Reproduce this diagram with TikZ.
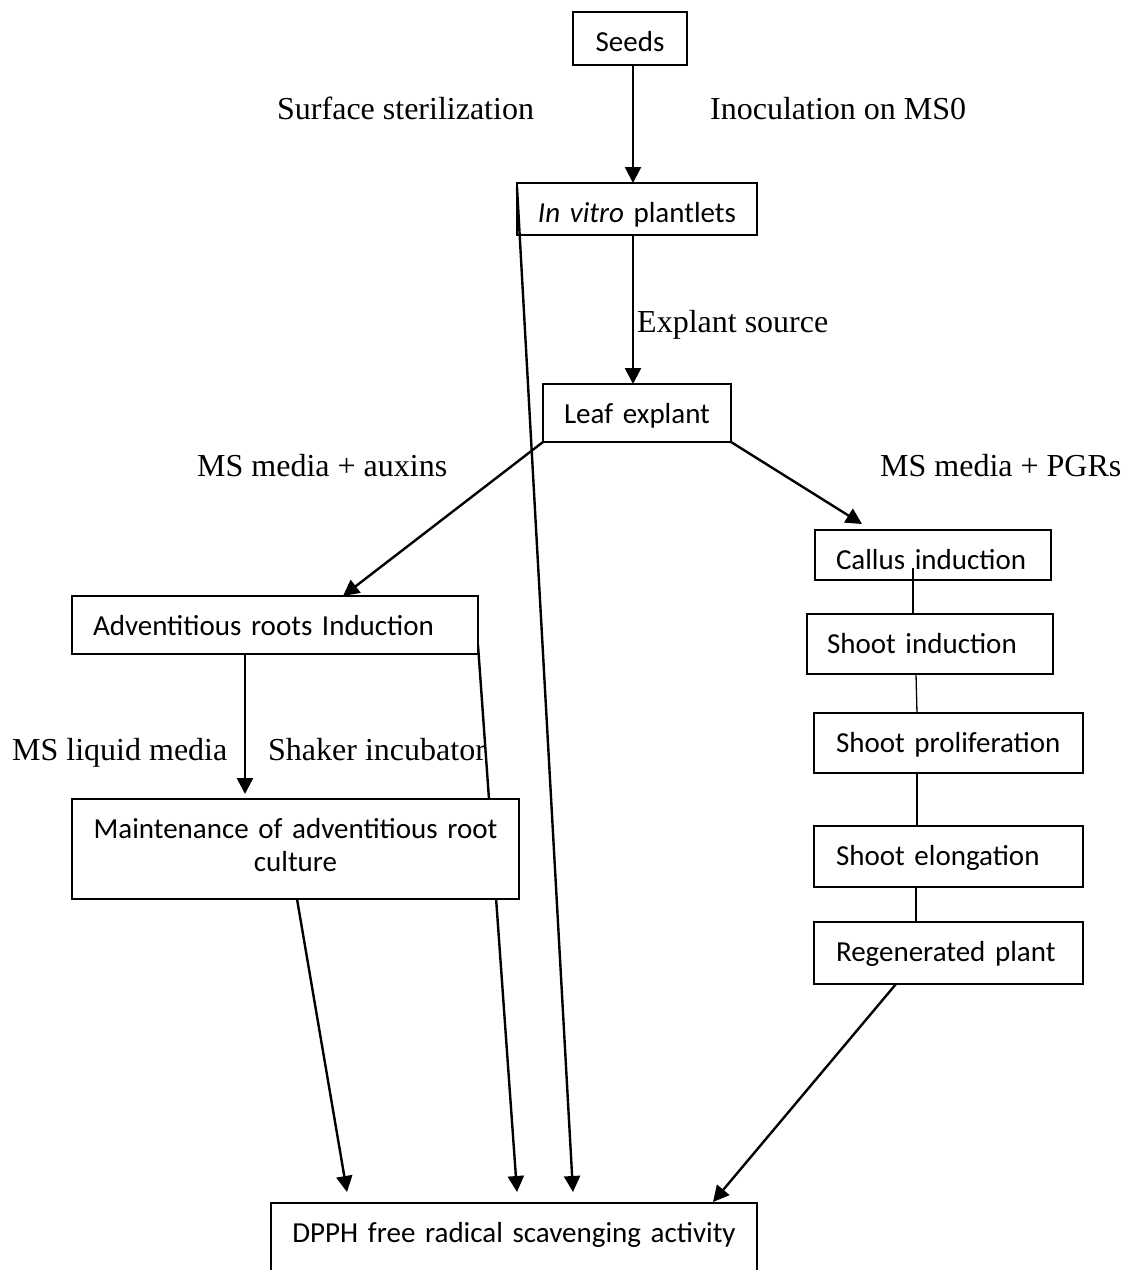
\documentclass[tikz,border=0pt]{standalone}
\usepackage{fontspec}
\setmainfont{Liberation Serif}
\newfontfamily\boxfnt{Carlito}
\usetikzlibrary{arrows.meta,calc}
\pgfdeclarelayer{bg}
\pgfsetlayers{bg,main}
\begin{document}
\begin{tikzpicture}[x=1pt,y=-1pt,
  box/.style={draw, line width=1.8pt, fill=white, inner ysep=0pt, outer sep=0pt,
              anchor=base west, text height=39pt,
              font=\boxfnt\fontsize{29}{33}\selectfont},
  lbox/.style={box, align=left, inner xsep=#1},
  cbox/.style={box, align=center, inner xsep=0pt},
  lbl/.style={inner sep=0pt, anchor=base west, font=\fontsize{32}{38}\selectfont},
  arr/.style={line width=2.4pt, -{Triangle[length=16pt,width=16pt]}},
  thin/.style={line width=1.3pt},
]
\useasboundingbox (0,0) rectangle (1127,1270);

% boxes
\node[cbox, text width=114pt, text depth=14pt] (seeds) at (573,51) {Seeds};
\node[cbox, text width=240pt, text depth=13pt] (invitro) at (517,222) {\textit{In vitro} plantlets};
\node[cbox, text width=188pt, text depth=19pt] (leaf) at (543,423) {Leaf explant};
\node[lbox=21pt, text width=194pt, text depth=11pt] (callus) at (815,569) {Callus induction};
\node[lbox=20pt, text width=206pt, text depth=21pt] (shootind) at (807,653) {Shoot induction};
\node[lbox=22pt, text width=225pt, text depth=21pt] (shootprol) at (814,752) {Shoot proliferation};
\node[lbox=22pt, text width=225pt, text depth=22pt] (shootelong) at (814,865) {Shoot elongation};
\node[lbox=22pt, text width=225pt, text depth=23pt] (regen) at (814,961) {Regenerated plant};
\node[lbox=21pt, text width=364pt, text depth=19pt] (advent) at (72,635) {Adventitious roots Induction};
\node[cbox, text width=447pt, text depth=61pt] (maint) at (72,838) {Maintenance of adventitious root\\culture};
\node[cbox, text width=486pt, text depth=90pt] (dpph) at (271,1242) {DPPH free radical scavenging activity};

% labels
\node[lbl] (l1) at (277,119) {Surface sterilization};
\node[lbl] (l2) at (710,119) {Inoculation on MS0};
\node[lbl] (l3) at (637,332) {Explant source};
\node[lbl] (l4) at (197,476) {MS media + auxins};
\node[lbl] (l5) at (880,476) {MS media + PGRs};
\node[lbl] (l6) at (12,760) {MS liquid media};
\node[lbl] (l7) at (268,760) {Shaker incubator};

% connectors
\draw[arr] ($(seeds.south)+(3,0)$) -- ($(invitro.north)+(-4,0)$);
\draw[arr] ($(invitro.south)+(-4,0)$) -- ($(leaf.north)+(-4,0)$);
\draw[arr] ($(invitro.north west)+(0,4)$) -- ($(dpph.north west)+(302,-11)$);
\draw[arr] (leaf.south west) -- ($(advent.north west)+(271,0)$);
\draw[arr] (leaf.south east) -- ($(callus.north west)+(47,-6)$);
\draw[arr] ($(advent.south west)+(173,0)$) -- ($(maint.north west)+(173,-5)$);
\draw[arr] ($(maint.south west)+(225,0)$) -- ($(dpph.north west)+(76,-11)$);
\begin{pgfonlayer}{bg}
\draw[arr] ($(advent.south east)+(0,-9)$) -- ($(dpph.north west)+(246,-11)$);
\end{pgfonlayer}
\draw[thin] ($(callus.south west)+(98,-12)$) -- ($(shootind.north west)+(106,0)$);
\draw[thin] ($(shootind.south west)+(109,0)$) -- ($(shootprol.north west)+(103,0)$);
\draw[thin] ($(shootprol.south west)+(103,0)$) -- ($(shootelong.north west)+(103,0)$);
\draw[thin] ($(shootelong.south west)+(102,0)$) -- ($(regen.north west)+(102,0)$);
\draw[arr] ($(regen.south west)+(82,0)$) -- ($(dpph.north west)+(442,-1)$);
\end{tikzpicture}
\end{document}
